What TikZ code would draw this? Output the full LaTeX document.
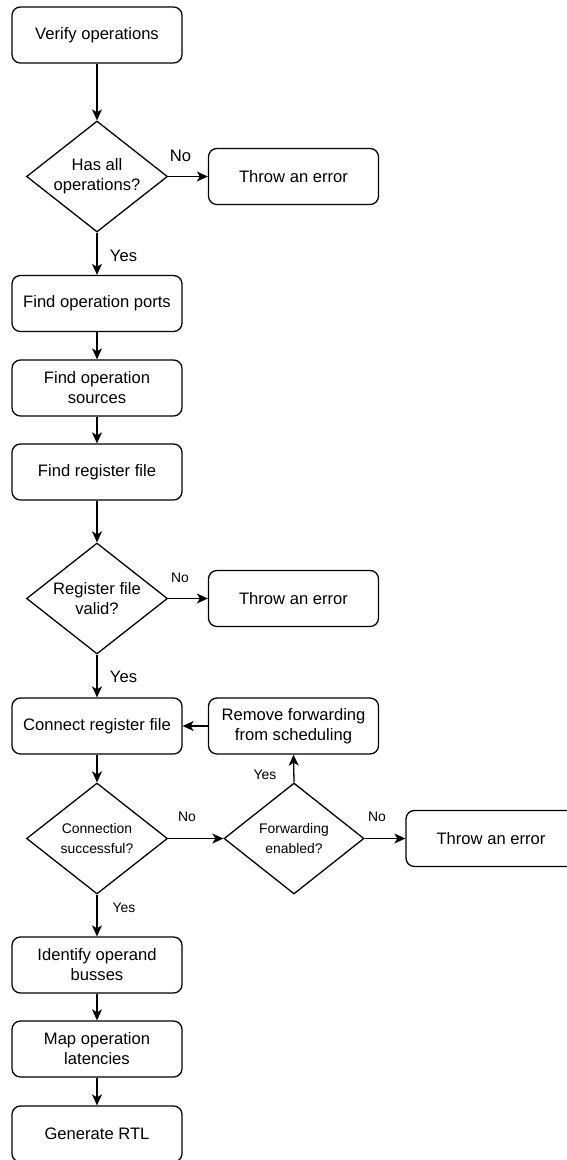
\documentclass[tikz,border=0pt]{standalone}
\usepackage{fontspec}
\setmainfont{Liberation Sans}
\usetikzlibrary{shapes.geometric,arrows.meta}
\tikzset{
  proc/.style={draw, rounded corners=8.4pt, line width=1.3pt, minimum width=170pt, minimum height=56pt, align=center, inner sep=0pt, font=\fontsize{16.6}{20}\selectfont},
  decision/.style={draw, shape=diamond, aspect=1.27, line width=1.3pt, minimum width=141pt, minimum height=111pt, inner sep=0pt, align=center},
  bigtxt/.style={font=\fontsize{16.6}{20}\selectfont},
  smalltxt/.style={font=\fontsize{13.9}{20.5}\selectfont},
  lbl/.style={inner sep=0pt},
  conn/.style={line width=1.3pt, -{Stealth[length=11pt,width=10pt,inset=3pt]}}
}
\begin{document}
\begin{tikzpicture}[x=1pt,y=-1pt]
\useasboundingbox (0,0) rectangle (566,1160);
\node[proc] (verify) at (97,35) {Verify operations};
\node[decision,bigtxt] (d1) at (97,176.5) {Has all\\operations?};
\node[proc] (err1) at (293.5,176.5) {Throw an error};
\node[proc] (ports) at (97,303.5) {Find operation ports};
\node[proc] (sources) at (97,388) {Find operation\\sources};
\node[proc] (regfile) at (97,472) {Find register file};
\node[decision,bigtxt] (d2) at (97,598.5) {Register file\\valid?};
\node[proc] (err2) at (293.5,598.5) {Throw an error};
\node[proc] (connect) at (97,726) {Connect register file};
\node[proc] (remove) at (293.5,726) {Remove forwarding\\from scheduling};
\node[decision,smalltxt] (d3) at (97,838.5) {Connection\\successful?};
\node[decision,smalltxt,minimum width=140pt] (fwd) at (294,838.5) {Forwarding\\enabled?};
\node[proc] (err3) at (491,838.5) {Throw an error};
\node[proc] (identify) at (97,965) {Identify operand\\busses};
\node[proc] (map) at (97,1049) {Map operation\\latencies};
\node[proc] (gen) at (97,1134) {Generate RTL};

\draw[conn] (verify.south) -- (d1.north);
\draw[conn] (d1.east) -- (err1.west);
\draw[conn] (d1.south) -- (ports.north);
\draw[conn] (ports.south) -- (sources.north);
\draw[conn] (sources.south) -- (regfile.north);
\draw[conn] (regfile.south) -- (d2.north);
\draw[conn] (d2.east) -- (err2.west);
\draw[conn] (d2.south) -- (connect.north);
\draw[conn] (remove.west) -- (connect.east);
\draw[conn] (connect.south) -- (d3.north);
\draw[conn] (d3.east) -- (fwd.west);
\draw[conn] (fwd.east) -- (err3.west);
\draw[conn] (fwd.north) -- (remove.south);
\draw[conn] (d3.south) -- (identify.north);
\draw[conn] (identify.south) -- (map.north);
\draw[conn] (map.south) -- (gen.north);

\node[lbl,bigtxt] (no1) at (180.5,156) {No};
\node[lbl,bigtxt] (yes1) at (123.5,256) {Yes};
\node[lbl,smalltxt] (no2) at (180,578) {No};
\node[lbl,bigtxt] (yes2) at (123.5,677) {Yes};
\node[lbl,smalltxt] (yes3) at (265,775) {Yes};
\node[lbl,smalltxt] (no3) at (187,817) {No};
\node[lbl,smalltxt] (no4) at (377,817) {No};
\node[lbl,smalltxt] (yes4) at (124,908) {Yes};
\end{tikzpicture}
\end{document}
